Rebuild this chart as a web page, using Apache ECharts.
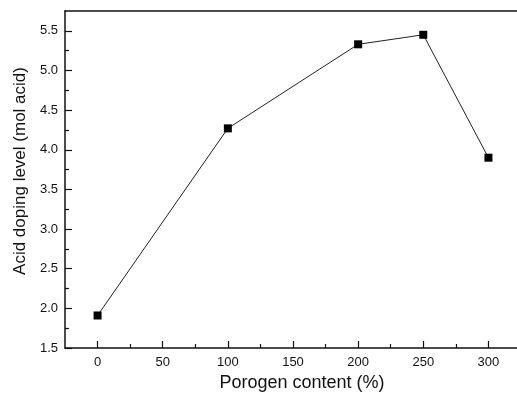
<!DOCTYPE html>
<html>
<head>
<meta charset="utf-8">
<script src="https://cdn.jsdelivr.net/npm/echarts@6/dist/echarts.min.js"></script>
<style>
  html, body { margin: 0; padding: 0; background: #fff; overflow: hidden; }
  #chart { width: 517px; height: 394px; }
</style>
</head>
<body>
<div id="chart"></div>
<script>
// Porogen content (%) vs acid doping level
const porogenContent = [0, 100, 200, 250, 300];
const acidDoping = [1.91, 4.27, 5.33, 5.45, 3.90];

// Axis tick positions
const xMajorTicks = [0, 50, 100, 150, 200, 250, 300];
const xMinorTicks = [25, 75, 125, 175, 225, 275];
const yMajorTicks = [1.5, 2.0, 2.5, 3.0, 3.5, 4.0, 4.5, 5.0, 5.5];
const yMinorTicks = [1.75, 2.25, 2.75, 3.25, 3.75, 4.25, 4.75, 5.25];

const FONT = 'Liberation Sans, Arial, sans-serif';
const INK = '#111';

const chart = echarts.init(document.getElementById('chart'), null, { renderer: 'canvas' });

const xRange = { min: -25, max: 325 };
const yRange = { min: 1.5, max: 5.75 };

chart.setOption({
  animation: false,
  backgroundColor: '#fff',
  // the frame runs slightly past the right edge of the canvas
  grid: { left: 65, top: 11, width: 456, bottom: 46, containLabel: false, outerBoundsMode: 'none' },
  xAxis: [
    {
      type: 'value', position: 'bottom', ...xRange,
      name: 'Porogen content (%)', nameLocation: 'middle', nameGap: 26,
      nameTextStyle: { fontFamily: FONT, fontSize: 18, color: INK, padding: [0, 0, 0, 18] },
      axisLine: { show: true, onZero: false, lineStyle: { color: INK, width: 1.5 } },
      axisTick: { show: true, inside: true, length: 7, customValues: xMajorTicks, lineStyle: { color: INK, width: 1.2 } },
      axisLabel: { show: true, margin: 8, customValues: xMajorTicks, fontFamily: FONT, fontSize: 13, color: INK },
      splitLine: { show: false }
    },
    {
      type: 'value', position: 'bottom', ...xRange,
      axisLine: { show: false, onZero: false },
      axisTick: { show: true, inside: true, length: 4, customValues: xMinorTicks, lineStyle: { color: INK, width: 1.2 } },
      axisLabel: { show: false },
      splitLine: { show: false }
    },
    {
      type: 'value', position: 'top', ...xRange,
      axisLine: { show: true, onZero: false, lineStyle: { color: INK, width: 1.5 } },
      axisTick: { show: false }, axisLabel: { show: false }, splitLine: { show: false }
    }
  ],
  yAxis: [
    {
      type: 'value', position: 'left', ...yRange,
      name: 'Acid doping level (mol acid)', nameLocation: 'middle', nameGap: 35,
      nameTextStyle: { fontFamily: FONT, fontSize: 17, color: INK, padding: [0, 0, 0, 17] },
      axisLine: { show: true, onZero: false, lineStyle: { color: INK, width: 1.5 } },
      axisTick: { show: true, inside: true, length: 7, customValues: yMajorTicks, lineStyle: { color: INK, width: 1.2 } },
      axisLabel: { show: true, margin: 7, customValues: yMajorTicks, fontFamily: FONT, fontSize: 13, color: INK,
                   formatter: v => v.toFixed(1) },
      splitLine: { show: false }
    },
    {
      type: 'value', position: 'left', ...yRange,
      axisLine: { show: false, onZero: false },
      axisTick: { show: true, inside: true, length: 4, customValues: yMinorTicks, lineStyle: { color: INK, width: 1.2 } },
      axisLabel: { show: false },
      splitLine: { show: false }
    },
    {
      type: 'value', position: 'right', ...yRange,
      axisLine: { show: true, onZero: false, lineStyle: { color: INK, width: 1.5 } },
      axisTick: { show: false }, axisLabel: { show: false }, splitLine: { show: false }
    }
  ],
  series: [
    {
      type: 'line',
      xAxisIndex: 0, yAxisIndex: 0,
      data: porogenContent.map((x, i) => [x, acidDoping[i]]),
      symbol: 'rect', symbolSize: 8,
      lineStyle: { color: '#222', width: 1 },
      itemStyle: { color: '#000' },
      clip: false
    }
  ]
});
</script>
</body>
</html>
